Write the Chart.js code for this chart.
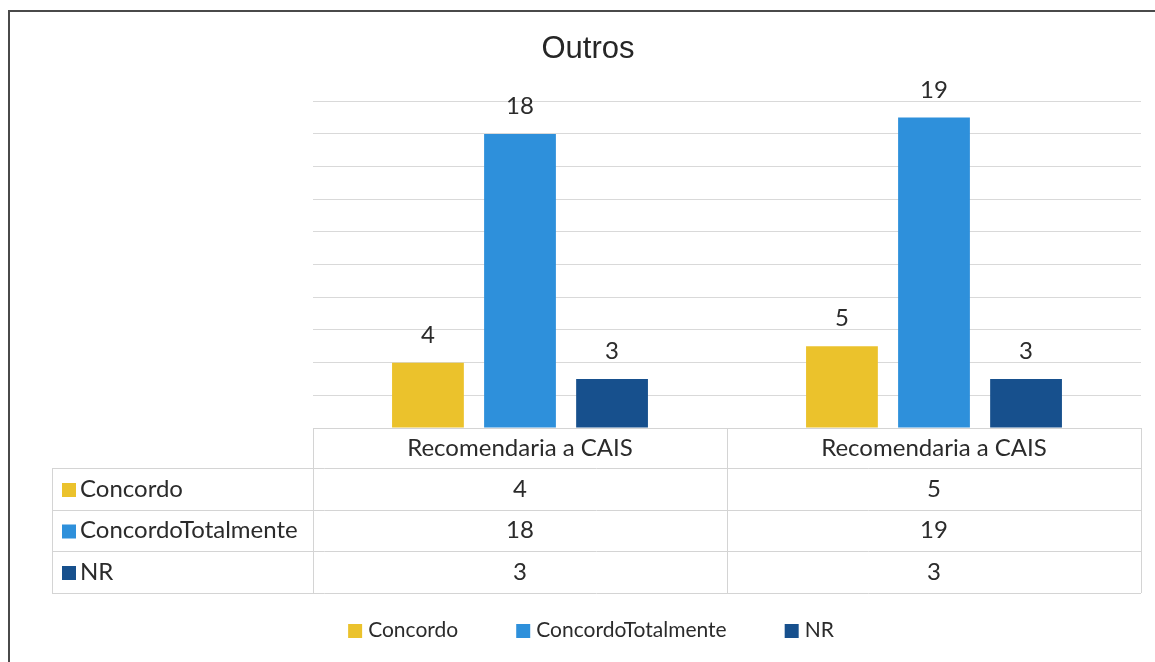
<!DOCTYPE html>
<html>
<head>
<meta charset="utf-8">
<script src="https://cdn.jsdelivr.net/npm/chart.js@4/dist/chart.umd.min.js"></script>
<style>
  html, body { margin: 0; padding: 0; background: #fff; }
  #wrap { width: 1155px; height: 662px; }
</style>
</head>
<body>
<div id="wrap"><canvas id="myChart" width="1155" height="662"></canvas></div>
<script>
const CATEGORIES = ["Recomendaria a CAIS", "Recomendaria a CAIS"];
const SERIES = ["Concordo", "ConcordoTotalmente", "NR"];
const CONCORDO = [4, 5];
const CONCORDO_TOTALMENTE = [18, 19];
const NR = [3, 3];
const COLORS = ["#EBC22C", "#2E90DB", "#17508D"];

const TEXT = "#2b2b2b";
const LINE = "#d4d4d4";
const FONT = "Lato, 'Open Sans', sans-serif";

// table under the bars + legend + frame, all drawn from chart data
const tablePlugin = {
  id: "dataTable",
  afterDatasetsDraw(chart) {
    const ctx = chart.ctx;
    ctx.save();
    ctx.font = "24px " + FONT;
    ctx.fillStyle = TEXT;
    ctx.textAlign = "center";
    ctx.textBaseline = "alphabetic";
    chart.data.datasets.forEach((ds, i) => {
      chart.getDatasetMeta(i).data.forEach((bar, j) => {
        ctx.fillText(ds.data[j], bar.x, bar.y - 20);
      });
    });
    ctx.restore();
  },
  afterDraw(chart) {
    const ctx = chart.ctx;
    const area = chart.chartArea;
    const x = chart.scales.x;
    const n = chart.data.labels.length;
    const colW = (area.right - area.left) / n;
    const left = 52;
    const rows = [area.bottom, area.bottom + 40, area.bottom + 82, area.bottom + 123, area.bottom + 165];

    ctx.save();
    ctx.strokeStyle = LINE;
    ctx.lineWidth = 1;
    ctx.beginPath();
    ctx.moveTo(area.left, rows[0] + 0.5);
    ctx.lineTo(area.right, rows[0] + 0.5);
    for (let r = 1; r < rows.length; r++) {
      ctx.moveTo(left, rows[r] + 0.5);
      ctx.lineTo(area.right, rows[r] + 0.5);
    }
    ctx.moveTo(left + 0.5, rows[1]);
    ctx.lineTo(left + 0.5, rows[4]);
    for (let c = 0; c <= n; c++) {
      const cx = Math.round(area.left + c * colW) + 0.5;
      ctx.moveTo(cx, rows[0]);
      ctx.lineTo(cx, rows[4]);
    }
    ctx.stroke();

    ctx.font = "24px " + FONT;
    ctx.fillStyle = TEXT;
    ctx.textBaseline = "middle";
    ctx.textAlign = "center";
    chart.data.labels.forEach((lab, j) => {
      ctx.fillText(lab, x.getPixelForValue(j), (rows[0] + rows[1]) / 2);
    });
    chart.data.datasets.forEach((ds, i) => {
      const cy = (rows[i + 1] + rows[i + 2]) / 2;
      ctx.fillStyle = ds.backgroundColor;
      ctx.fillRect(left + 10, cy - 6, 14, 14);
      ctx.fillStyle = TEXT;
      ctx.textAlign = "left";
      ctx.fillText(ds.label, left + 28, cy);
      ctx.textAlign = "center";
      ds.data.forEach((v, j) => ctx.fillText(v, x.getPixelForValue(j), cy));
    });

    // bottom legend
    ctx.font = "21px " + FONT;
    const gap = 58, box = 14, pad = 6;
    const widths = chart.data.datasets.map(ds => box + pad + ctx.measureText(ds.label).width);
    const total = widths.reduce((a, b) => a + b, 0) + gap * (widths.length - 1);
    let lx = 591 - total / 2;
    const ly = 630;
    chart.data.datasets.forEach((ds, i) => {
      ctx.fillStyle = ds.backgroundColor;
      ctx.fillRect(lx, ly - 6, box, box);
      ctx.fillStyle = TEXT;
      ctx.textAlign = "left";
      ctx.fillText(ds.label, lx + box + pad, ly);
      lx += widths[i] + gap;
    });

    // scanned frame
    ctx.strokeStyle = "#4a4a4a";
    ctx.lineWidth = 2;
    ctx.beginPath();
    ctx.moveTo(9, chart.height);
    ctx.lineTo(9, 11);
    ctx.lineTo(chart.width, 11);
    ctx.stroke();
    ctx.restore();
  }
};

function generateGraph() {
  const values = [CONCORDO, CONCORDO_TOTALMENTE, NR];
  const datasets = SERIES.map((name, i) => ({
    label: name,
    data: values[i],
    backgroundColor: COLORS[i],
    categoryPercentage: 0.667,
    barPercentage: 0.78
  }));

  const ctx = document.getElementById("myChart").getContext("2d");
  return new Chart(ctx, {
    type: "bar",
    data: { labels: CATEGORIES, datasets: datasets },
    options: {
      responsive: false,
      animation: false,
      // title box spans 35..1141 so it centres near x=588 like the reference
      layout: { padding: { left: 35, right: 14, top: 0, bottom: 234 } },
      plugins: {
        legend: { display: false },
        tooltip: { enabled: false },
        title: {
          display: true,
          text: "Outros",
          color: "#262626",
          font: { family: "'Liberation Sans', Arial, sans-serif", size: 31, weight: "normal" },
          padding: { top: 31, bottom: 33 }
        }
      },
      scales: {
        x: {
          ticks: { display: false },
          grid: { display: false },
          border: { display: false },
          afterFit(scale) { scale.height = 0; }
        },
        y: {
          min: 0,
          max: 20,
          ticks: { display: false, stepSize: 2 },
          grid: { color: "#d9d9d9", drawTicks: false },
          border: { display: false },
          afterFit(scale) { scale.width = 278; }
        }
      }
    },
    plugins: [tablePlugin]
  });
}

generateGraph();
</script>
</body>
</html>
